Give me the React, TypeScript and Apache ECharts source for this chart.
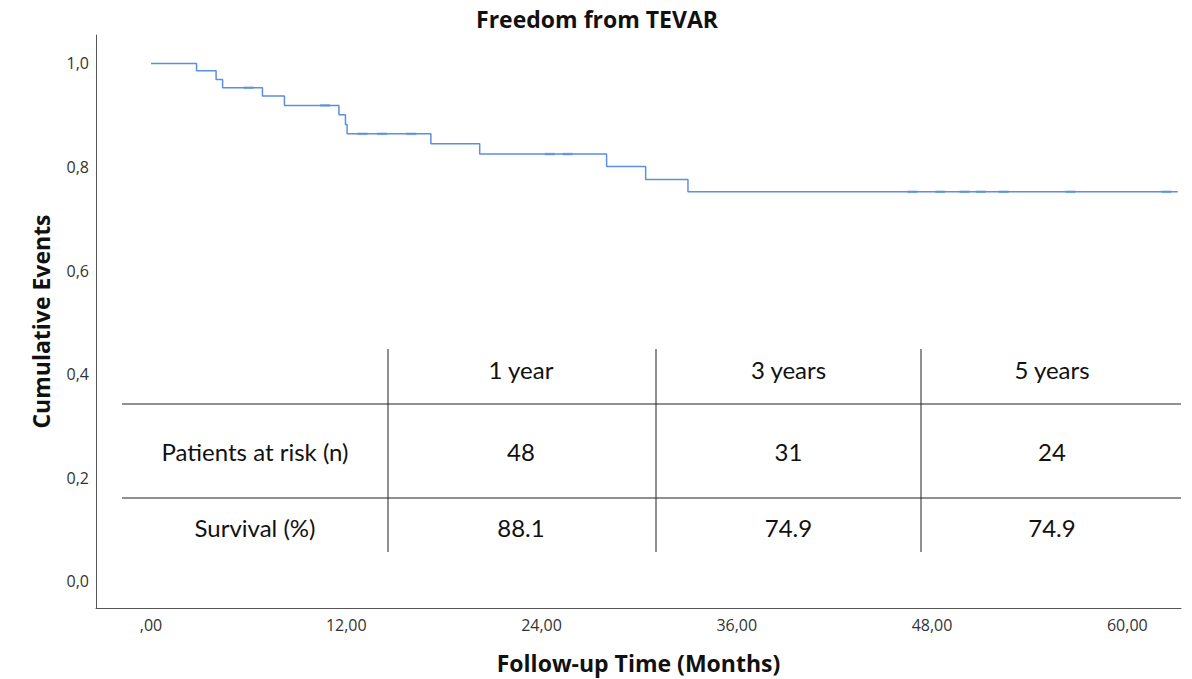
import React, { useEffect, useRef } from "react";
import * as echarts from "echarts";

// Kaplan-Meier step points (months, cumulative proportion)
const months = [0, 2.8, 4.0, 4.4, 6.85, 8.2, 11.55, 11.95, 12.05, 17.2, 20.2, 28.0, 30.4, 33.0, 63.1];
const survival = [1.0, 0.986, 0.969, 0.953, 0.937, 0.919, 0.901, 0.882, 0.864, 0.845, 0.825, 0.801, 0.776, 0.752, 0.752];

// censor marks
const censorMonths = [6.0, 10.7, 13.0, 14.2, 16.0, 24.5, 25.6, 46.8, 48.5, 50.0, 51.0, 52.4, 56.5, 62.4];
const censorValues = [0.953, 0.919, 0.864, 0.864, 0.864, 0.825, 0.825, 0.752, 0.752, 0.752, 0.752, 0.752, 0.752, 0.752];

const xTicks = [0, 12, 24, 36, 48, 60];
const yTicks = [0, 0.2, 0.4, 0.6, 0.8, 1.0];

const tableHeaders = ["1 year", "3 years", "5 years"];
const rowLabels = ["Patients at risk (n)", "Survival (%)"];
const atRisk = ["48", "31", "24"];
const survivalPct = ["88.1", "74.9", "74.9"];

export default function App() {
  const ref = useRef<HTMLDivElement>(null);

  useEffect(() => {
    const chart = echarts.init(ref.current!, null, { renderer: "svg" });

    const lineColor = "#222";
    const tblFont = "24px Lato";
    const colX = [122, 388, 656, 921, 1181];
    const rowY = [349, 404, 498, 552];
    const colCenters = [255, 521, 788.5, 1052];
    const rowCenters = [369, 451, 527];

    const txt = (x: number, y: number, s: string, font: string) => ({
      type: "text",
      x,
      y,
      style: {
        text: s,
        font,
        fill: "#111",
        align: "center",
        textAlign: "center",
        verticalAlign: "middle",
        textVerticalAlign: "middle",
      },
    });
    const ln = (x1: number, y1: number, x2: number, y2: number) => ({
      type: "line",
      shape: { x1, y1, x2, y2 },
      style: { stroke: lineColor, lineWidth: 1 },
    });

    const graphics: any[] = [
      txt(597, 19, "Freedom from TEVAR", "bold 23px 'Open Sans'"),
      ln(colX[1], rowY[0], colX[1], rowY[3]),
      ln(colX[2], rowY[0], colX[2], rowY[3]),
      ln(colX[3], rowY[0], colX[3], rowY[3]),
      ln(colX[0], rowY[1], colX[4], rowY[1]),
      ln(colX[0], rowY[2], colX[4], rowY[2]),
    ];
    tableHeaders.forEach((h, i) => graphics.push(txt(colCenters[i + 1], rowCenters[0], h, tblFont)));
    rowLabels.forEach((r, i) => graphics.push(txt(colCenters[0], rowCenters[i + 1], r, tblFont)));
    atRisk.forEach((v, i) => graphics.push(txt(colCenters[i + 1], rowCenters[1], v, tblFont)));
    survivalPct.forEach((v, i) => graphics.push(txt(colCenters[i + 1], rowCenters[2], v, tblFont)));

    const nameStyle = { fontFamily: "Open Sans", fontWeight: "bold", fontSize: 23, color: "#111" };
    const labelStyle = { fontFamily: "Open Sans", fontSize: 16, color: "#333" };

    chart.setOption({
      animation: false,
      backgroundColor: "#fff",
      grid: { left: 96, right: 11, top: 35, bottom: 71, containLabel: false, outerBoundsMode: "none" },
      xAxis: {
        type: "value",
        min: -3.38,
        max: 63.3,
        name: "Follow-up Time (Months)",
        nameLocation: "middle",
        nameGap: 43,
        nameTextStyle: nameStyle,
        axisLine: { show: true, onZero: false, lineStyle: { color: "#555", width: 1 } },
        axisTick: { show: false },
        splitLine: { show: false },
        axisLabel: {
          customValues: xTicks,
          margin: 9,
          ...labelStyle,
          formatter: (v: number) => (v === 0 ? ",00" : v.toFixed(2).replace(".", ",")),
        },
      },
      yAxis: {
        type: "value",
        min: -0.052,
        max: 1.055,
        name: "Cumulative Events",
        nameLocation: "middle",
        nameGap: 44,
        nameTextStyle: nameStyle,
        axisLine: { show: true, onZero: false, lineStyle: { color: "#555", width: 1 } },
        axisTick: { show: false },
        splitLine: { show: false },
        axisLabel: {
          customValues: yTicks,
          margin: 7,
          ...labelStyle,
          formatter: (v: number) => v.toFixed(1).replace(".", ","),
        },
      },
      series: [
        {
          type: "line",
          step: "end",
          data: months.map((m, i) => [m, survival[i]]),
          showSymbol: false,
          lineStyle: { color: "#5b8fe0", width: 1.5 },
          silent: true,
        },
        {
          type: "scatter",
          data: censorMonths.map((m, i) => [m, censorValues[i]]),
          symbol: "rect",
          symbolSize: [10, 2.5],
          itemStyle: { color: "#4a7fd6", opacity: 0.6 },
          silent: true,
        },
      ],
      graphic: graphics,
    });

    return () => chart.dispose();
  }, []);

  return (
    <div
      ref={ref}
      style={{ position: "fixed", left: 0, top: 0, width: 1192, height: 679, background: "#fff" }}
    />
  );
}
